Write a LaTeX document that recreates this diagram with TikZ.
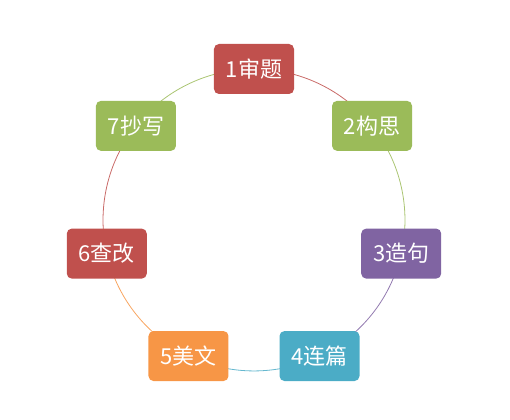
\documentclass[tikz,border=0pt]{standalone}
\usepackage{fontspec}
\setmainfont{Noto Sans CJK SC}
\usetikzlibrary{backgrounds}
\definecolor{cred}{HTML}{C0504D}
\definecolor{cgreen}{HTML}{9BBB59}
\definecolor{cpurple}{HTML}{8064A2}
\definecolor{cteal}{HTML}{4BACC6}
\definecolor{corange}{HTML}{F79646}
\tikzset{
  stepbox/.style={rectangle, rounded corners=5bp, minimum width=80bp, minimum height=50bp,
    inner sep=0pt, text=white, font=\fontsize{22bp}{26bp}\selectfont},
  cyc/.style={line width=0.8bp, bend left=25.71, looseness=0.896}
}
\begin{document}
\begin{tikzpicture}
\useasboundingbox (-254bp,-200bp) rectangle (256bp,220bp);
\def\R{151bp}
\node[stepbox, fill=cred]    (n1) at (90:\R) {1审题};
\node[stepbox, fill=cgreen]  (n2) at (38.57:\R) {2构思};
\node[stepbox, fill=cpurple] (n3) at (-12.86:\R) {3造句};
\node[stepbox, fill=cteal]   (n4) at (-64.29:\R) {4连篇};
\node[stepbox, fill=corange] (n5) at (-115.71:\R) {5美文};
\node[stepbox, fill=cred]    (n6) at (-167.14:\R) {6查改};
\node[stepbox, fill=cgreen]  (n7) at (141.43:\R) {7抄写};
\begin{scope}[on background layer]
\draw[cyc, cred!85]    (n1.center) to (n2.center);
\draw[cyc, cgreen!85]  (n2.center) to (n3.center);
\draw[cyc, cpurple!85] (n3.center) to (n4.center);
\draw[cyc, cteal!85]   (n4.center) to (n5.center);
\draw[cyc, corange!85] (n5.center) to (n6.center);
\draw[cyc, cred!85]    (n6.center) to (n7.center);
\draw[cyc, cgreen!85]  (n7.center) to (n1.center);
\end{scope}
\end{tikzpicture}
\end{document}
